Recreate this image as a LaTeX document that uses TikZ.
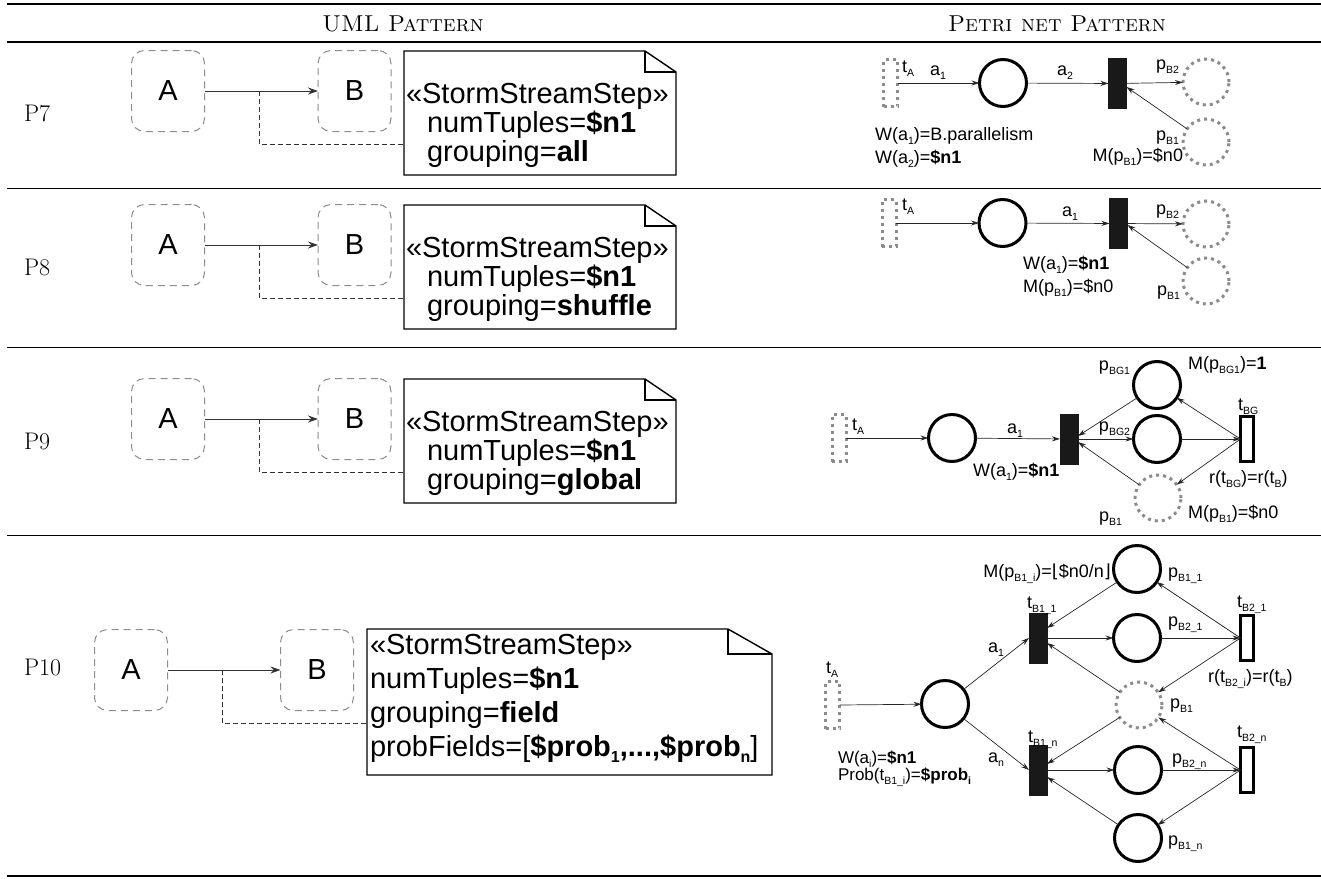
\documentclass[tikz,border=0pt]{standalone}
\usepackage{fontspec}
\newfontfamily\hv{Liberation Sans}
\newfontfamily\dv{DejaVu Sans}
\usetikzlibrary{arrows.meta}
\newcommand\lsub[1]{\raisebox{-4pt}{\fontsize{10.5}{10.5}\selectfont #1}}
\newcommand\bsub[1]{\raisebox{-6pt}{\fontsize{16}{16}\selectfont\bfseries #1}}
\tikzset{
 every node/.style={inner sep=0pt, outer sep=0pt},
 umlbox/.style={draw=black!45, line width=1pt, dash pattern=on 7pt off 5pt, rounded corners=13pt, minimum width=73pt, minimum height=81pt, font=\hv\fontsize{29}{29}\selectfont},
 umltxt/.style={font=\hv\fontsize{29}{29}\selectfont, anchor=base west},
 notebox/.style={draw=black, line width=1.4pt, line join=miter},
 umlarrow/.style={-{Stealth[length=10pt,width=7pt]}, line width=1pt, draw=black!80},
 umldash/.style={draw=black!80, line width=0.9pt, dash pattern=on 5pt off 3pt},
 plc/.style={circle, draw=black, line width=3pt, minimum size=47pt},
 dplc/.style={circle, draw=black!45, line width=3pt, dash pattern=on 3pt off 4pt, minimum size=46pt},
 bartr/.style={draw=black!90, fill=black!90, line width=0.5pt, minimum width=18pt, minimum height=50pt},
 htr/.style={draw=black, fill=white, line width=3pt, minimum width=13pt, minimum height=45pt},
 dtr/.style={draw=black!45, line width=3pt, dash pattern=on 3pt off 4pt, minimum width=14pt, minimum height=47pt},
 parc/.style={-{Stealth[length=8pt,width=5pt]}, line width=0.7pt, draw=black!85},
 lb/.style={font=\hv\fontsize{18}{18}\selectfont, anchor=base west},
 lbe/.style={font=\hv\fontsize{18}{18}\selectfont, anchor=base east},
 lbs/.style={font=\hv\fontsize{17}{17}\selectfont, anchor=base west},
 hdr/.style={font=\fontsize{23}{23}\selectfont},
 rowlbl/.style={font=\fontsize{24}{24}\selectfont, anchor=west},
}
\newcommand\umlrow[3]{%
\begin{scope}[shift={(0,#2)}]
\node[umlbox] (A#1) at (168,91) {A};
\node[umlbox] (B#1) at (354.5,91) {B};
\draw[notebox] (404,51) -- (645,51) -- (676,72) -- (676,175) -- (404,175) -- cycle;
\draw[notebox] (645,51) -- (645,72) -- (676,72);
\coordinate (N#1) at (404,144);
\coordinate (J#1) at (259,91);
\node[umltxt] (s#1) at (406,103) {«StormStreamStep»};
\node[umltxt] (n#1) at (427,132) {numTuples=\textbf{\$n1}};
\node[umltxt] (g#1) at (427,161) {grouping=\textbf{#3}};
\draw[umlarrow] (A#1) -- (B#1);
\draw[umldash] (J#1) |- (N#1);
\end{scope}}
\begin{document}
\begin{tikzpicture}[x=1pt,y=-1pt]
\useasboundingbox (0,0) rectangle (1321,878);
% rules
\draw[line width=2.5pt] (7,4) -- (1321,4);
\draw[line width=1.8pt] (7,42) -- (1321,42);
\draw[line width=1pt] (7,188) -- (1321,188);
\draw[line width=1pt] (7,347) -- (1321,347);
\draw[line width=1pt] (7,535) -- (1321,535);
\draw[line width=2.5pt] (7,876) -- (1321,876);
% header
\node[hdr] (h1) at (403,24) {\textsc{UML Pattern}};
\node[hdr] (h2) at (1057,24) {\textsc{Petri net Pattern}};
% row labels
\node[rowlbl] (r7) at (24,113) {P7};
\node[rowlbl] (r8) at (24,267) {P8};
\node[rowlbl] (r9) at (24,441) {P9};
\node[rowlbl] (r10) at (24,667) {P10};
% UML rows
\umlrow{7}{0}{all}
\umlrow{8}{154}{shuffle}
\umlrow{9}{328}{global}
% UML P10
\node[umlbox] (A10) at (131,670) {A};
\node[umlbox] (B10) at (317,670) {B};
\draw[notebox] (367,629) -- (728,629) -- (772,654) -- (772,775) -- (367,775) -- cycle;
\draw[notebox] (728,629) -- (728,654) -- (772,654);
\coordinate (N10) at (367,723);
\coordinate (J10) at (222,670);
\node[umltxt] (s10) at (370,654) {«StormStreamStep»};
\node[umltxt] (n10) at (370,688) {numTuples=\textbf{\$n1}};
\node[umltxt] (g10) at (370,722) {grouping=\textbf{field}};
\node[umltxt] (f10) at (370,756) {probFields=[\textbf{\$prob\bsub{1},...,\$prob\bsub{n}}]};
\draw[umlarrow] (A10) -- (B10);
\draw[umldash] (J10) |- (N10);

% ---------- Petri P7
\node[dtr] (tA7) at (890.5,83) {};
\node[plc] (c7) at (1003,83) {};
\node[bartr] (bar7) at (1117.5,83.5) {};
\node[dplc] (pB27) at (1206,82) {};
\node[dplc] (pB17) at (1206,142) {};
\node[lb] (ltA7) at (902,72) {t\lsub{A}};
\node[lb] (la17) at (930,75) {a\lsub{1}};
\node[lb] (la27) at (1057,75) {a\lsub{2}};
\node[lbe] (lpB27) at (1179,69) {p\lsub{B2}};
\node[lbe] (lpB17) at (1179,140) {p\lsub{B1}};
\node[lbe] (lM7) at (1183,161) {M(p\lsub{B1})=\$n0};
\node[lb] (lW17) at (875,140) {W(a\lsub{1})=B.parallelism};
\node[lb] (lW27) at (875,163) {W(a\lsub{2})=\textbf{\$n1}};
\draw[parc] (tA7.east) -- (c7);
\draw[parc] (c7) -- (bar7);
\draw[parc] (bar7) -- (pB27);
\draw[parc] (pB17) -- ([yshift=-3.5pt]bar7.east);

% ---------- Petri P8
\node[dtr] (tA8) at (889,223) {};
\node[plc] (c8) at (1002.5,223) {};
\node[bartr] (bar8) at (1118.5,223.5) {};
\node[dplc] (pB28) at (1206,224) {};
\node[dplc] (pB18) at (1206,281) {};
\node[lb] (ltA8) at (902,210) {t\lsub{A}};
\node[lb] (la18) at (1062,216) {a\lsub{1}};
\node[lbe] (lpB28) at (1179,214) {p\lsub{B2}};
\node[lbe] (lpB18) at (1180,295) {p\lsub{B1}};
\node[lb] (lW8) at (1023,269) {W(a\lsub{1})=\textbf{\$n1}};
\node[lb] (lM8) at (1023,292) {M(p\lsub{B1})=\$n0};
\draw[parc] (tA8.east) -- (c8);
\draw[parc] (c8) -- (bar8);
\draw[parc] (bar8) -- (pB28);
\draw[parc] (pB18) -- ([yshift=-1.5pt]bar8.east);

% ---------- Petri P9
\node[dtr] (tA9) at (839,438) {};
\node[plc] (c9) at (952,438) {};
\node[bartr] (bar9) at (1069,439) {};
\node[plc] (pBG1) at (1157,385) {};
\node[plc] (pBG2) at (1157,439) {};
\node[dplc] (pB19) at (1158,498) {};
\node[htr] (tBG) at (1247,439) {};
\node[lb] (ltA9) at (852,430) {t\lsub{A}};
\node[lb] (la19) at (1007,433) {a\lsub{1}};
\node[lb] (lW9) at (973,476) {W(a\lsub{1})=\textbf{\$n1}};
\node[lbe] (lpBG1) at (1130,370) {p\lsub{BG1}};
\node[lb] (lMBG1) at (1188,369) {M(p\lsub{BG1})=\textbf{1}};
\node[lbe] (lpBG2) at (1130,431) {p\lsub{BG2}};
\node[lb] (ltBG) at (1238,410) {t\lsub{BG}};
\node[lb] (lr9) at (1209,483) {r(t\lsub{BG})=r(t\lsub{B})};
\node[lbe] (lpB19) at (1122,521) {p\lsub{B1}};
\node[lb] (lM9) at (1188,518) {M(p\lsub{B1})=\$n0};
\draw[parc] (tA9.east) -- (c9);
\draw[parc] (c9) -- (bar9);
\draw[parc] (bar9.east) -- (pBG2);
\draw[parc] (pBG1) -- ([yshift=3pt]bar9.east);
\draw[parc] (pB19) -- ([yshift=-3pt]bar9.east);
\draw[parc] (pBG2) -- (tBG.west);
\draw[parc] (tBG.west) -- (pBG1);
\draw[parc] (tBG.west) -- (pB19);

% ---------- Petri P10
\node[dtr] (tA10) at (832.5,705) {};
\node[plc] (c10) at (945,704) {};
\node[bartr] (tB11) at (1038,638) {};
\node[bartr] (tB1n) at (1038,770) {};
\node[plc] (pB11) at (1137,569) {};
\node[plc] (pB21) at (1137,638) {};
\node[dplc] (pB110) at (1139,705) {};
\node[plc] (pB2n) at (1138,770) {};
\node[plc] (pB1n) at (1138,838) {};
\node[htr] (tB21) at (1247,638) {};
\node[htr] (tB2n) at (1247,770) {};
\node[lb] (ltA10) at (826,673) {t\lsub{A}};
\node[lb] (la110) at (988,652) {a\lsub{1}};
\node[lb] (lan10) at (988,762) {a\lsub{n}};
\node[lb] (ltB11) at (1027,608) {t\lsub{B1\_1}};
\node[lb] (ltB1n) at (1028,742) {t\lsub{B1\_n}};
\node[lbe] (lM10) at (1111,577) {M(p\lsub{B1\_i})={\dv ⌊}\$n0/n{\dv ⌋}};
\node[lb] (lpB11) at (1168,577) {p\lsub{B1\_1}};
\node[lb] (lpB21) at (1168,626) {p\lsub{B2\_1}};
\node[lb] (ltB21) at (1237,607) {t\lsub{B2\_1}};
\node[lb] (lr10) at (1208,682) {r(t\lsub{B2\_i})=r(t\lsub{B})};
\node[lb] (lpB110) at (1170,708) {p\lsub{B1}};
\node[lb] (ltB2n) at (1237,737) {t\lsub{B2\_n}};
\node[lb] (lpB2n) at (1172,763) {p\lsub{B2\_n}};
\node[lb] (lpB1n) at (1168,845) {p\lsub{B1\_n}};
\node[lbs] (lW10) at (838,763) {W(a\lsub{i})=\textbf{\$n1}};
\node[lbs] (lP10) at (838,780) {Prob(t\lsub{B1\_i})=\textbf{\$prob\lsub{i}}};
\draw[parc] (tA10.east) -- (c10);
\draw[parc] (c10) -- (tB11.west);
\draw[parc] (c10) -- (tB1n.west);
\draw[parc] (pB11) -- ([yshift=10pt]tB11.east);
\draw[parc] (tB11.east) -- (pB21);
\draw[parc] (pB110) -- ([yshift=-5pt]tB11.east);
\draw[parc] (pB110) -- ([yshift=6pt]tB1n.east);
\draw[parc] (tB1n.east) -- (pB2n);
\draw[parc] (pB1n) -- ([yshift=-7pt]tB1n.east);
\draw[parc] (pB21) -- (tB21.west);
\draw[parc] (tB21.west) -- (pB11);
\draw[parc] (tB21.west) -- (pB110);
\draw[parc] (pB2n) -- (tB2n.west);
\draw[parc] (tB2n.west) -- (pB110);
\draw[parc] (tB2n.west) -- (pB1n);
\end{tikzpicture}
\end{document}
